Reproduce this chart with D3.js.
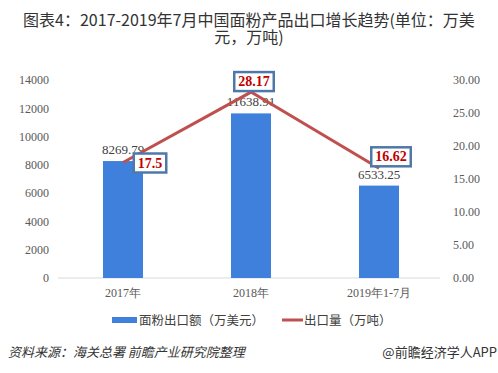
<!DOCTYPE html>
<html><head><meta charset="utf-8">
<script src="https://cdn.jsdelivr.net/npm/d3@7/dist/d3.min.js"></script>
<style>body{margin:0;background:#fff}svg{display:block}</style>
</head><body>
<svg id="c" width="498" height="373"></svg>
<script>
const categories = ["2017年", "2018年", "2019年1-7月"];
const exportValue = [8269.79, 11638.91, 6533.25];
const exportVolume = [17.5, 28.17, 16.62];
const leftTicks = [0, 2000, 4000, 6000, 8000, 10000, 12000, 14000];
const rightTicks = [0, 5, 10, 15, 20, 25, 30];
const seriesNames = ["面粉出口额（万美元）", "出口量（万吨）"];
const titleLines = ["图表4：2017-2019年7月中国面粉产品出口增长趋势(单位：万美", "元，万吨)"];

const svg = d3.select("#c");
const serif = "'Liberation Serif','DejaVu Serif',serif";
const sans = "'Noto Sans CJK SC','Noto Sans',sans-serif";

const x = d3.scaleBand().domain(categories).range([59, 443]).paddingInner(0.6875).paddingOuter(0.34375);
const yL = d3.scaleLinear().domain([0, 14000]).range([278, 80]);
const yR = d3.scaleLinear().domain([0, 30]).range([278, 80]);

// title
svg.append("g").selectAll("text").data(titleLines).join("text")
  .attr("x", 249).attr("y", (d, i) => 26 + i * 17)
  .attr("font-family", sans).attr("font-size", 16).attr("fill", "#333").attr("text-anchor", "middle")
  .text(d => d);

// baseline
svg.append("line").attr("x1", 58).attr("x2", 440).attr("y1", yL(0)).attr("y2", yL(0)).attr("stroke", "#d9d9d9").attr("stroke-width", 1);

// left axis
const axL = svg.append("g").attr("transform", "translate(58,0)")
  .call(d3.axisLeft(yL).tickValues(leftTicks).tickSize(0).tickPadding(9).tickFormat(d3.format("d")));
axL.select(".domain").remove();
axL.selectAll("text").attr("font-family", serif).attr("font-size", 12).attr("fill", "#595959");

// right axis
const axR = svg.append("g").attr("transform", "translate(440,0)")
  .call(d3.axisRight(yR).tickValues(rightTicks).tickSize(0).tickPadding(13).tickFormat(d3.format(".2f")));
axR.select(".domain").remove();
axR.selectAll("text").attr("font-family", serif).attr("font-size", 12).attr("fill", "#595959");

// x axis
const axX = svg.append("g").attr("transform", `translate(0,${yL(0)})`)
  .call(d3.axisBottom(x).tickSize(0).tickPadding(10));
axX.select(".domain").remove();
axX.selectAll("text").attr("font-family", serif).attr("font-size", 12).attr("fill", "#595959");

// bars
svg.append("g").selectAll("rect").data(exportValue).join("rect")
  .attr("x", (d, i) => x(categories[i])).attr("width", x.bandwidth())
  .attr("y", d => yL(d)).attr("height", d => yL(0) - yL(d)).attr("fill", "#3f80dc");

// bar labels
svg.append("g").selectAll("text").data(exportValue).join("text")
  .attr("x", (d, i) => x(categories[i]) + x.bandwidth() / 2).attr("y", d => yL(d) - 7)
  .attr("text-anchor", "middle").attr("font-family", serif).attr("font-size", 13).attr("fill", "#404040")
  .text(d => d3.format(".2f")(d));

// line
const cx = i => x(categories[i]) + x.bandwidth() / 2;
svg.append("path").datum(exportVolume)
  .attr("d", d3.line().x((d, i) => cx(i)).y(d => yR(d)))
  .attr("fill", "none").attr("stroke", "#c0504d").attr("stroke-width", 3);

// line labels in boxes
const offs = [[27, 0], [3, -11], [12, -12]];
const lg = svg.append("g");
exportVolume.forEach((v, i) => {
  const tx = cx(i) + offs[i][0], ty = yR(v) + offs[i][1];
  const t = lg.append("text").attr("x", tx).attr("y", ty + 5).attr("text-anchor", "middle")
    .attr("font-family", serif).attr("font-weight", "bold").attr("font-size", 14).attr("fill", "#c00000").text(v);
  const bb = t.node().getBBox();
  lg.insert("rect", "text").attr("x", bb.x - 4).attr("y", ty - 9).attr("width", bb.width + 8).attr("height", 19)
    .attr("fill", "#fff").attr("stroke", "#4f78aa").attr("stroke-width", 2.5);
});

// legend
const leg = svg.append("g").attr("font-family", sans).attr("font-size", 12.5).attr("fill", "#404040");
leg.append("rect").attr("x", 112).attr("y", 317).attr("width", 25).attr("height", 6).attr("fill", "#3f80dc");
leg.append("text").attr("x", 139).attr("y", 325).text(seriesNames[0]);
leg.append("line").attr("x1", 282).attr("x2", 303).attr("y1", 320).attr("y2", 320).attr("stroke", "#c0504d").attr("stroke-width", 3);
leg.append("text").attr("x", 304).attr("y", 325).text(seriesNames[1]);

// footer
svg.append("text").attr("transform", "translate(8,357) skewX(-14)").attr("font-family", sans).attr("font-size", 13).attr("fill", "#333")
  .text("资料来源：海关总署 前瞻产业研究院整理");
svg.append("text").attr("x", 497).attr("y", 357).attr("text-anchor", "end").attr("font-family", sans).attr("font-size", 13).attr("fill", "#333")
  .text("@前瞻经济学人APP");
</script>
</body></html>
